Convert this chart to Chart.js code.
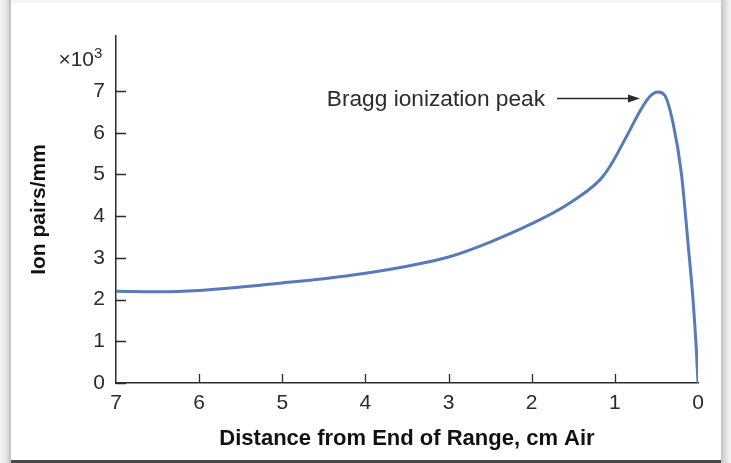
<!DOCTYPE html>
<html>
<head>
<meta charset="utf-8">
<script src="https://cdn.jsdelivr.net/npm/chart.js@4.4.1/dist/chart.umd.min.js"></script>
<style>
  html, body { margin: 0; padding: 0; background: #fff; }
  #wrap { position: relative; width: 731px; height: 463px; overflow: hidden; }
  .edge { position: absolute; }
  #edge-left { left: 0; top: 0; width: 11px; height: 463px; background: linear-gradient(to right, #f4f4f4, #e4e4e4 60%, #bdbdbd); }
  #edge-right { left: 721px; top: 0; width: 10px; height: 463px; background: linear-gradient(to right, #c4c4c4, #e6e6e6 60%, #f4f4f4); }
  #edge-top { left: 0; top: 0; width: 731px; height: 3px; background: #f4f4f4; }
  #edge-bottom { left: 11px; top: 460px; width: 710px; height: 3px; background: #4a4a4a; }
  canvas { position: absolute; left: 0; top: 0; }
</style>
</head>
<body>
<div id="wrap">
  <div class="edge" id="edge-top"></div>
  <div class="edge" id="edge-left"></div>
  <div class="edge" id="edge-right"></div>
  <div class="edge" id="edge-bottom"></div>
  <canvas id="bragg" width="731" height="463"></canvas>
</div>
<script>
'use strict';

// distance from end of range (cm air) and ion pairs per mm (x10^3)
const distance = [7, 6.5, 6, 5.5, 5, 4.5, 4, 3.5, 3, 2.5, 2, 1.58, 1.18, 1.06, 0.86, 0.7, 0.58, 0.48, 0.4, 0.3, 0.2, 0.12, 0.06, 0.02, 0];
const ionPairs = [2.2, 2.19, 2.22, 2.3, 2.4, 2.5, 2.63, 2.8, 3.02, 3.38, 3.82, 4.27, 4.87, 5.19, 5.91, 6.51, 6.87, 6.98, 6.9, 6.23, 5.03, 3.35, 2.0, 0.8, 0];

const xTicks = [7, 6, 5, 4, 3, 2, 1, 0];
const yTicks = [0, 1, 2, 3, 4, 5, 6, 7];

const peakLabel = 'Bragg ionization peak';
const yMultiplier = '\u00d710';

const FONT = '"Liberation Sans", Arial, Helvetica, sans-serif';
const INK = '#2b2b2b';

const innerTicks = {
  id: 'innerTicks',
  afterDraw(chart) {
    const { ctx, scales: { x, y } } = chart;
    ctx.save();
    ctx.strokeStyle = INK;
    ctx.lineWidth = 1.3;
    ctx.beginPath();
    yTicks.forEach(v => {
      const py = Math.round(y.getPixelForValue(v)) + 0.5;
      ctx.moveTo(x.left, py);
      ctx.lineTo(x.left + 10, py);
    });
    xTicks.forEach(v => {
      if (v === 7 || v === 0) return;
      const px = Math.round(x.getPixelForValue(v)) + 0.5;
      ctx.moveTo(px, y.bottom);
      ctx.lineTo(px, y.bottom - 9);
    });
    ctx.stroke();

    // x10^3 multiplier above the y axis
    ctx.fillStyle = INK;
    ctx.textBaseline = 'alphabetic';
    ctx.font = '21px ' + FONT;
    ctx.textAlign = 'right';
    const base = 66;
    ctx.fillText(yMultiplier, 94, base);
    ctx.font = '15px ' + FONT;
    ctx.textAlign = 'left';
    ctx.fillText('3', 94, base - 8);

    // peak annotation
    ctx.font = '22.7px ' + FONT;
    ctx.textAlign = 'right';
    ctx.textBaseline = 'middle';
    ctx.fillText(peakLabel, 545, 100);
    const ax0 = 557, ax1 = 640, ay = 98.5;
    ctx.beginPath();
    ctx.lineWidth = 1.5;
    ctx.moveTo(ax0, ay);
    ctx.lineTo(ax1 - 8, ay);
    ctx.stroke();
    ctx.beginPath();
    ctx.moveTo(ax1, ay);
    ctx.lineTo(ax1 - 12, ay - 4);
    ctx.lineTo(ax1 - 12, ay + 4);
    ctx.closePath();
    ctx.fill();
    ctx.restore();
  }
};

new Chart(document.getElementById('bragg'), {
  type: 'line',
  data: {
    datasets: [{
      data: distance.map((d, i) => ({ x: d, y: ionPairs[i] })),
      borderColor: '#5a78bc',
      borderWidth: 3,
      pointRadius: 0,
      fill: false,
      cubicInterpolationMode: 'monotone'
    }]
  },
  options: {
    responsive: false,
    animation: false,
    layout: { padding: { left: 0, right: 33, top: 36, bottom: 0 } },
    plugins: { legend: { display: false }, tooltip: { enabled: false } },
    scales: {
      x: {
        type: 'linear',
        reverse: true,
        min: 0,
        max: 7,
        afterBuildTicks: s => { s.ticks = xTicks.map(v => ({ value: v })); },
        afterFit: s => { s.height = 80; },
        grid: { display: true, drawOnChartArea: false, drawTicks: false },
        border: { display: true, color: INK, width: 1.5 },
        ticks: { color: INK, padding: 8, maxRotation: 0, autoSkip: false, font: { family: FONT, size: 21 } },
        title: {
          display: true,
          text: 'Distance from End of Range, cm Air',
          color: '#111',
          padding: { top: 0, bottom: 11 },
          font: { family: FONT, size: 22, weight: 'bold' }
        }
      },
      y: {
        min: 0,
        max: 8.32,
        afterBuildTicks: s => { s.ticks = yTicks.map(v => ({ value: v })); },
        afterFit: s => { s.width = 116; },
        grid: { display: true, drawOnChartArea: false, drawTicks: false },
        border: { display: true, color: INK, width: 1.5 },
        ticks: { color: INK, padding: 11, font: { family: FONT, size: 21 } },
        title: {
          display: true,
          text: 'Ion pairs/mm',
          color: '#111',
          padding: { top: 27, bottom: 0 },
          font: { family: FONT, size: 21, weight: 'bold' }
        }
      }
    }
  },
  plugins: [innerTicks]
});
</script>
</body>
</html>
